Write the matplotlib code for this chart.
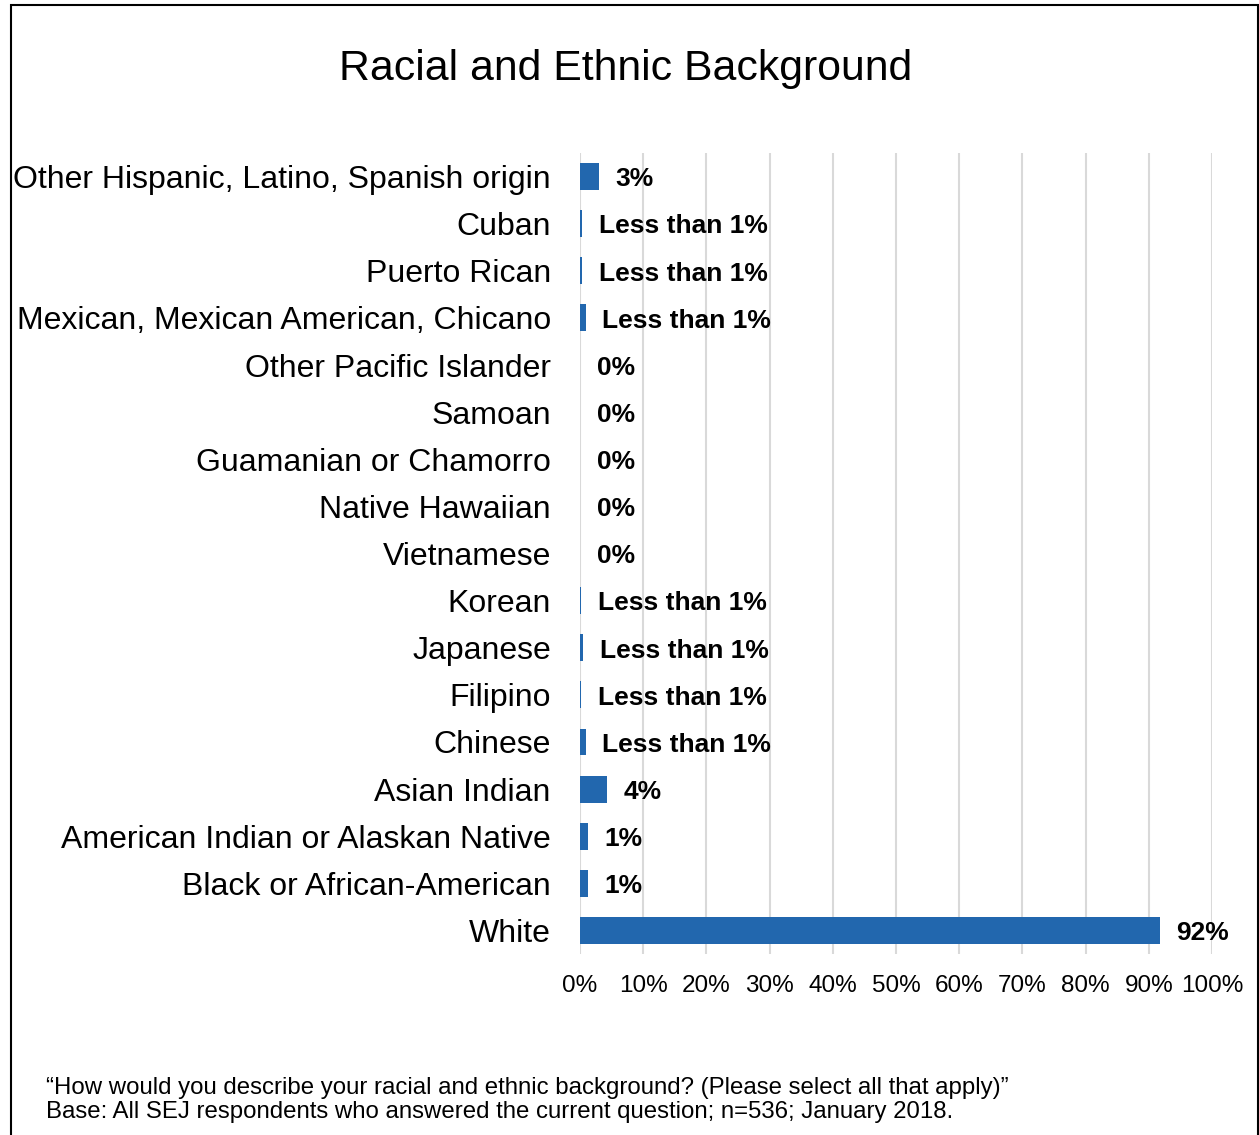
import matplotlib
matplotlib.use("Agg")
import matplotlib.pyplot as plt
from matplotlib.patches import Rectangle

plt.rcParams['font.family'] = ['Liberation Sans', 'DejaVu Sans']

categories = [
    "Other Hispanic, Latino, Spanish origin",
    "Cuban",
    "Puerto Rican",
    "Mexican, Mexican American, Chicano",
    "Other Pacific Islander",
    "Samoan",
    "Guamanian or Chamorro",
    "Native Hawaiian",
    "Vietnamese",
    "Korean",
    "Japanese",
    "Filipino",
    "Chinese",
    "Asian Indian",
    "American Indian or Alaskan Native",
    "Black or African-American",
    "White",
]
values = [3.0, 0.3, 0.3, 0.9, 0, 0, 0, 0, 0, 0.15, 0.5, 0.15, 0.9, 4.2, 1.2, 1.2, 91.7]
value_labels = ["3%", "Less than 1%", "Less than 1%", "Less than 1%", "0%", "0%", "0%", "0%", "0%",
                "Less than 1%", "Less than 1%", "Less than 1%", "Less than 1%", "4%", "1%", "1%", "92%"]
ticks = list(range(0, 101, 10))
tick_labels = [f"{t}%" for t in ticks]

title = "Racial and Ethnic Background"
footnote = ("\u201cHow would you describe your racial and ethnic background? (Please select all that apply)\u201d\n"
            "Base: All SEJ respondents who answered the current question; n=536; January 2018.")

W, H = 1259, 1135
fig = plt.figure(figsize=(W / 100, H / 100), dpi=100)

# axes in pixel coords: x 580..1212, y 153..954
ax = fig.add_axes([580 / W, 1 - 954 / H, (1212 - 580) / W, (954 - 153) / H])
n = len(categories)
ypos = list(range(n))
ax.barh(ypos, values, height=0.57, color="#2267AE", zorder=3)
ax.set_ylim(n - 0.5, -0.5)
ax.set_xlim(0, 100)
ax.set_yticks(ypos)
ax.set_yticklabels(categories, fontsize=23)
ax.set_xticks(ticks)
ax.set_xticklabels(tick_labels, fontsize=17.5)
ax.tick_params(axis='y', length=0, pad=21)
ax.tick_params(axis='x', length=0, pad=15)
for s in ax.spines.values():
    s.set_visible(False)
ax.grid(axis='x', color="#D9D9D9", linewidth=1.5, zorder=0)
ax.set_axisbelow(True)

for y, v, lab in zip(ypos, values, value_labels):
    ax.annotate(lab, xy=(v, y), xytext=(12, -2), textcoords='offset points',
                ha='left', va='center', fontsize=19, fontweight='bold', color='black')

fig.text(626 / W, 1 - 69 / H, title, ha='center', va='center', fontsize=30.8)
fig.text(46 / W, 1 - 1100 / H, footnote, ha='left', va='center', fontsize=17.3, linespacing=1.15)

# figure border (open at the bottom)
fig.add_artist(Rectangle((11 / W, -0.05), (1258 - 11) / W, 1 - 5 / H + 0.05,
                         transform=fig.transFigure, fill=False, edgecolor='black', linewidth=1.5))

fig.savefig("out.png", dpi=100)
